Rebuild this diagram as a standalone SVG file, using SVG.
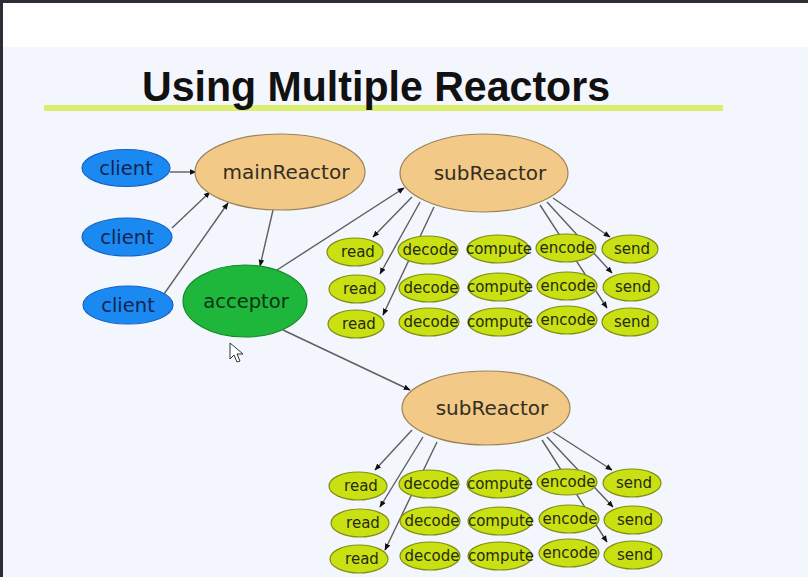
<svg xmlns="http://www.w3.org/2000/svg" width="808" height="577" viewBox="0 0 808 577">
<defs>
<style>
.bg{fill:#f4f6fd}
.e{stroke:#5e5e5e;stroke-width:1.4;fill:none;marker-end:url(#ah)}
.cl ellipse{fill:#1a8af2;stroke:#1462c0;stroke-width:1.2}
.cl text{fill:#15244f;font-family:"DejaVu Sans",sans-serif;font-size:19.5px;text-anchor:middle}
.rc ellipse{fill:#f2c986;stroke:#9c8258;stroke-width:1.2}
.rc text{fill:#342e22;font-family:"DejaVu Sans",sans-serif;font-size:20px;text-anchor:middle}
.ac ellipse{fill:#1fb63c;stroke:#138a2b;stroke-width:1.2}
.ac text{fill:#0d3316;font-family:"DejaVu Sans",sans-serif;font-size:19.5px;text-anchor:middle}
.sm ellipse{fill:#c9e012;stroke:#7f8f14;stroke-width:1.2}
.sm text{fill:#262a12;font-family:"DejaVu Sans",sans-serif;font-size:15px;text-anchor:middle}
</style>
<marker id="ah" viewBox="0 0 10 10" refX="9" refY="5" markerWidth="7" markerHeight="7" markerUnits="userSpaceOnUse" orient="auto">
<path d="M0,1 L10,5 L0,9 z" fill="#111"/>
</marker>
</defs>
<rect x="0" y="0" width="808" height="577" fill="#fefefe"/>
<rect class="bg" x="0" y="47" width="808" height="530"/>
<rect x="0" y="0" width="808" height="3" fill="#2b2e34"/>
<rect x="0" y="0" width="3" height="577" fill="#2b2e34"/>
<rect x="44" y="105" width="679" height="6" fill="#dcee70"/>
<text x="142" y="101" font-family="Liberation Sans, Arial, sans-serif" font-weight="bold" font-size="42" textLength="468" lengthAdjust="spacingAndGlyphs" fill="#111">Using Multiple Reactors</text>

<g id="connectors">
<line class="e" x1="170" y1="172" x2="196" y2="172"/>
<line class="e" x1="172" y1="228" x2="210" y2="192"/>
<line class="e" x1="164" y1="294" x2="228" y2="203"/>
<line class="e" x1="273" y1="210" x2="260" y2="266"/>
<line class="e" x1="277" y1="270" x2="404" y2="188"/>
<line class="e" x1="283" y1="330" x2="410" y2="390"/>
<line class="e" x1="412" y1="197" x2="373" y2="237"/>
<line class="e" x1="420" y1="202" x2="380" y2="274"/>
<line class="e" x1="434" y1="207" x2="383" y2="315"/>
<line class="e" x1="553" y1="198" x2="610" y2="237"/>
<line class="e" x1="547" y1="202" x2="612" y2="273"/>
<line class="e" x1="540" y1="205" x2="607" y2="308"/>
<line class="e" x1="412" y1="430" x2="375" y2="470"/>
<line class="e" x1="423" y1="437" x2="380" y2="507"/>
<line class="e" x1="437" y1="442" x2="385" y2="550"/>
<line class="e" x1="553" y1="432" x2="612" y2="470"/>
<line class="e" x1="547" y1="437" x2="613" y2="507"/>
<line class="e" x1="542" y1="440" x2="607" y2="542"/>
</g>

<g id="client1" class="cl"><ellipse cx="126" cy="168" rx="44" ry="18.5"/><text x="126" y="175">client</text></g>
<g id="client2" class="cl"><ellipse cx="127" cy="237" rx="45" ry="19"/><text x="127" y="244">client</text></g>
<g id="client3" class="cl"><ellipse cx="128" cy="305" rx="45" ry="19"/><text x="128" y="312">client</text></g>
<g id="mainReactor" class="rc"><ellipse cx="280" cy="172" rx="85" ry="38"/><text x="286" y="179">mainReactor</text></g>
<g id="acceptor" class="ac"><ellipse cx="245" cy="301" rx="62" ry="36"/><text x="246" y="308">acceptor</text></g>
<g id="subReactor1" class="rc"><ellipse cx="484" cy="173" rx="84" ry="39"/><text x="490" y="180">subReactor</text></g>
<g id="subReactor2" class="rc"><ellipse cx="486" cy="408" rx="84" ry="37"/><text x="492" y="415">subReactor</text></g>

<g id="read1" class="sm"><ellipse cx="355" cy="252" rx="28" ry="14"/><text x="358" y="257">read</text></g>
<g id="decode1" class="sm"><ellipse cx="428" cy="250" rx="30" ry="14"/><text x="430" y="255">decode</text></g>
<g id="compute1" class="sm"><ellipse cx="498" cy="249" rx="31" ry="14"/><text x="499" y="254">compute</text></g>
<g id="encode1" class="sm"><ellipse cx="566" cy="248" rx="30" ry="14"/><text x="567" y="253">encode</text></g>
<g id="send1" class="sm"><ellipse cx="630" cy="249" rx="28" ry="14"/><text x="632" y="254">send</text></g>

<g id="read2" class="sm"><ellipse cx="357" cy="289" rx="28" ry="14"/><text x="360" y="294">read</text></g>
<g id="decode2" class="sm"><ellipse cx="429" cy="288" rx="30" ry="14"/><text x="431" y="293">decode</text></g>
<g id="compute2" class="sm"><ellipse cx="499" cy="287" rx="31" ry="14"/><text x="500" y="292">compute</text></g>
<g id="encode2" class="sm"><ellipse cx="567" cy="286" rx="30" ry="14"/><text x="568" y="291">encode</text></g>
<g id="send2" class="sm"><ellipse cx="631" cy="287" rx="28" ry="14"/><text x="633" y="292">send</text></g>

<g id="read3" class="sm"><ellipse cx="356" cy="324" rx="28" ry="14"/><text x="359" y="329">read</text></g>
<g id="decode3" class="sm"><ellipse cx="429" cy="322" rx="30" ry="14"/><text x="431" y="327">decode</text></g>
<g id="compute3" class="sm"><ellipse cx="499" cy="322" rx="31" ry="14"/><text x="500" y="327">compute</text></g>
<g id="encode3" class="sm"><ellipse cx="567" cy="320" rx="30" ry="14"/><text x="568" y="325">encode</text></g>
<g id="send3" class="sm"><ellipse cx="630" cy="322" rx="28" ry="14"/><text x="632" y="327">send</text></g>

<g id="read4" class="sm"><ellipse cx="358" cy="486" rx="29" ry="14"/><text x="361" y="491">read</text></g>
<g id="decode4" class="sm"><ellipse cx="429" cy="484" rx="30" ry="14"/><text x="431" y="489">decode</text></g>
<g id="compute4" class="sm"><ellipse cx="499" cy="484" rx="32" ry="14"/><text x="500" y="489">compute</text></g>
<g id="encode4" class="sm"><ellipse cx="567" cy="482" rx="30" ry="13"/><text x="568" y="487">encode</text></g>
<g id="send4" class="sm"><ellipse cx="632" cy="483" rx="29" ry="14"/><text x="634" y="488">send</text></g>

<g id="read5" class="sm"><ellipse cx="360" cy="523" rx="29" ry="14"/><text x="363" y="528">read</text></g>
<g id="decode5" class="sm"><ellipse cx="430" cy="521" rx="30" ry="14"/><text x="432" y="526">decode</text></g>
<g id="compute5" class="sm"><ellipse cx="500" cy="521" rx="32" ry="14"/><text x="501" y="526">compute</text></g>
<g id="encode5" class="sm"><ellipse cx="569" cy="519" rx="30" ry="14"/><text x="570" y="524">encode</text></g>
<g id="send5" class="sm"><ellipse cx="633" cy="520" rx="29" ry="14"/><text x="635" y="525">send</text></g>

<g id="read6" class="sm"><ellipse cx="359" cy="559" rx="29" ry="14"/><text x="362" y="564">read</text></g>
<g id="decode6" class="sm"><ellipse cx="430" cy="556" rx="30" ry="14"/><text x="432" y="561">decode</text></g>
<g id="compute6" class="sm"><ellipse cx="500" cy="556" rx="32" ry="14"/><text x="501" y="561">compute</text></g>
<g id="encode6" class="sm"><ellipse cx="569" cy="553" rx="30" ry="14"/><text x="570" y="558">encode</text></g>
<g id="send6" class="sm"><ellipse cx="633" cy="555" rx="29" ry="14"/><text x="635" y="560">send</text></g>

<polygon points="230,343 230,359 234,355 237,362 240,361 237,354 243,354" fill="#fff" stroke="#333" stroke-width="1"/>
</svg>
